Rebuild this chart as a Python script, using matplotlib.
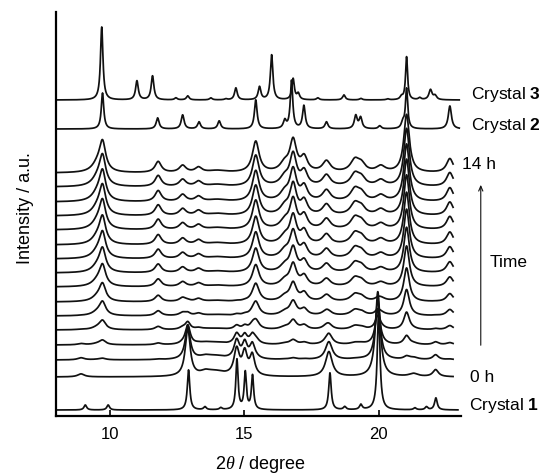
import numpy as np
import matplotlib
matplotlib.use('Agg')
import matplotlib.pyplot as plt

plt.rcParams['font.family'] = ['Liberation Sans', 'DejaVu Sans']
plt.rcParams['mathtext.fontset'] = 'custom'
plt.rcParams['mathtext.rm'] = 'Liberation Sans'
plt.rcParams['mathtext.bf'] = 'Liberation Sans:bold'
plt.rcParams['mathtext.it'] = 'Liberation Serif:italic'

# --- peak tables (2theta, height, FWHM) ---
crystal3_pos = [9.70, 11.01, 11.59, 12.46, 12.90, 13.76, 14.32, 14.69, 15.57, 16.02,
                16.82, 17.01, 17.74, 18.71, 19.34, 20.34, 20.85, 21.04, 21.53, 21.93, 22.10]
crystal3_height = [73, 19, 24, 2, 4, 2, 1, 12, 13, 45, 21, 6, 2, 5, 1.5, 1, 3, 43, 2, 10, 4]
crystal3_width = [0.11, 0.12, 0.12, 0.12, 0.12, 0.12, 0.12, 0.12, 0.12, 0.11,
                  0.11, 0.12, 0.12, 0.12, 0.12, 0.12, 0.12, 0.09, 0.12, 0.14, 0.14]

crystal2_pos = [9.73, 11.78, 12.71, 13.32, 14.07, 15.43, 16.51, 16.76, 17.22, 18.06,
                19.15, 19.33, 20.04, 20.90, 21.04, 22.65]
crystal2_height = [36, 11, 14, 7, 8, 29, 8, 48, 23, 7, 13, 11, 3, 6, 40, 23]
crystal2_width = [0.11, 0.13, 0.13, 0.13, 0.13, 0.12, 0.13, 0.11, 0.12, 0.13,
                  0.13, 0.13, 0.13, 0.13, 0.10, 0.14]

crystal1_pos = [9.09, 9.94, 12.93, 13.54, 14.13, 14.73, 15.04, 15.31, 18.19, 18.74,
                19.34, 20.00, 21.35, 21.78, 22.13]
crystal1_height = [5, 5, 40, 3, 2, 50, 37, 34, 37, 3, 5, 100, 2, 3, 12]
crystal1_width = [0.12, 0.12, 0.11, 0.12, 0.12, 0.10, 0.10, 0.10, 0.11, 0.12,
                  0.12, 0.12, 0.12, 0.12, 0.12]

# broad pattern of the starting phase (0 h)
phase_a_pos = [8.93, 12.90, 13.55, 13.90, 14.72, 15.02, 15.30, 18.15, 19.97, 21.30, 22.12]
phase_a_height = [3, 48, 3, 5, 26, 22, 20, 25, 85, 3, 7]
phase_a_width = [0.30, 0.22, 0.40, 0.90, 0.24, 0.22, 0.22, 0.30, 0.22, 0.40, 0.25]

# broad pattern of the final phase (14 h)
phase_b_pos = [9.55, 9.73, 11.80, 12.71, 13.30, 14.00, 15.43, 16.50, 16.82, 17.23,
               18.06, 19.12, 19.36, 20.08, 21.04, 22.65]
phase_b_height = [8, 28, 11, 7, 5, 2, 31, 8, 31, 14, 11, 12, 7, 6, 58, 14]
phase_b_width = [0.50, 0.28, 0.28, 0.30, 0.30, 0.80, 0.30, 0.40, 0.30, 0.30,
                 0.35, 0.40, 0.35, 0.40, 0.25, 0.30]

# share of each phase in the hourly patterns, 0 h ... 14 h
time_hours = list(range(15))
phase_a_share = [1.0, 0.7, 0.4, 0.15, 0.05, 0.02, 0, 0, 0, 0, 0, 0, 0, 0, 0]
phase_b_share = [0.0, 0.05, 0.15, 0.30, 0.45, 0.58, 0.70, 0.78, 0.85, 0.90,
                 0.94, 0.97, 0.99, 1.0, 1.0]
time_offsets = [39, 56, 71, 86, 100, 114, 129, 143, 157, 171, 186, 200, 214, 229, 243]

crystal1_offset = 6
crystal2_offset = 287
crystal3_offset = 316


def lorentz_pattern(x, pos, height, width):
    """Sum of Lorentzian peaks."""
    y = np.zeros_like(x)
    for p, h, w in zip(pos, height, width):
        y += h / (1 + ((x - p) / (w / 2)) ** 2)
    return y


fig = plt.figure(figsize=(5.46, 4.75), dpi=100)
ax = fig.add_axes([0.1026, 0.1242, 0.741, 0.8505])

line_kw = dict(color='#111111', lw=1.25)

x_full = np.linspace(8.0, 23.0, 3000)
x_time = np.linspace(8.0, 22.77, 3000)
x_c1 = np.linspace(8.0, 22.95, 3000)

ax.plot(x_c1, crystal1_offset + lorentz_pattern(x_c1, crystal1_pos, crystal1_height, crystal1_width), **line_kw)

pat_a = lorentz_pattern(x_time, phase_a_pos, phase_a_height, phase_a_width)
pat_b = lorentz_pattern(x_time, phase_b_pos, phase_b_height, phase_b_width)
for h, fa, fb, off in zip(time_hours, phase_a_share, phase_b_share, time_offsets):
    ax.plot(x_time, off + fa * pat_a + fb * pat_b, **line_kw)

ax.plot(x_full, crystal2_offset + lorentz_pattern(x_full, crystal2_pos, crystal2_height, crystal2_width), **line_kw)
ax.plot(x_full, crystal3_offset + lorentz_pattern(x_full, crystal3_pos, crystal3_height, crystal3_width), **line_kw)

ax.set_xlim(8.0, 23.05)
ax.set_ylim(0, 404)
ax.spines['top'].set_visible(False)
ax.spines['right'].set_visible(False)
ax.spines['left'].set_linewidth(1.6)
ax.spines['bottom'].set_linewidth(1.6)
ax.set_xticks([10, 15, 20])
ax.set_yticks([])
ax.tick_params(axis='x', direction='in', length=4, width=1.2, pad=8, labelsize=12)

ax.set_xlabel('2$\\theta$ / degree', fontsize=13)
ax.xaxis.set_label_coords(0.505, -0.095)
ax.set_ylabel('Intensity / a.u.', fontsize=13)
ax.yaxis.set_label_coords(-0.054, 0.515)

label_kw = dict(fontsize=12.5, va='center', ha='left')
ax.text(23.42, 322, 'Crystal $\\mathbf{3}$', **label_kw)
ax.text(23.42, 291, 'Crystal $\\mathbf{2}$', **label_kw)
ax.text(23.12, 252, '14 h', **label_kw)
ax.text(24.13, 154, 'Time', **label_kw)
ax.text(23.39, 39, '0 h', **label_kw)
ax.text(23.35, 11, 'Crystal $\\mathbf{1}$', **label_kw)
ax.annotate('', xy=(23.8, 234), xytext=(23.8, 68), annotation_clip=False,
            arrowprops=dict(arrowstyle='->,head_length=0.35,head_width=0.15', lw=0.8, color='#111111'))

fig.savefig('out.png', dpi=100)
